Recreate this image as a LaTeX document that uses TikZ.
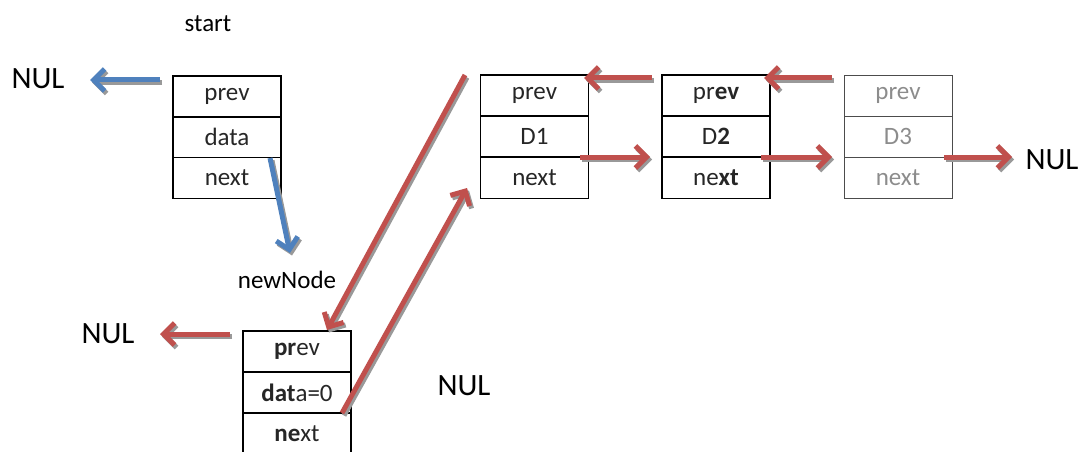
\documentclass[tikz,border=0pt]{standalone}
\usepackage{fontspec}
\setmainfont{Carlito}
\usetikzlibrary{arrows.meta}
\definecolor{lnred}{HTML}{C0504D}
\definecolor{lnblue}{HTML}{4F81BD}
\tikzset{
  cell/.style={draw=black, line width=1.3pt, minimum width=108pt, minimum height=41pt,
    inner sep=0pt, font=\fontsize{25}{28}\selectfont, text=black!85},
  faint/.style={cell, draw=black!70, line width=0.8pt, text=black!45},
  lbl/.style={font=\fontsize{31}{34}\selectfont, inner sep=0pt},
  small/.style={font=\fontsize{25}{28}\selectfont, inner sep=0pt},
  ptr/.style={line width=5pt, -{Straight Barb[length=11pt, width=22pt, line width=5pt]}},
  shade/.style={ptr, draw=black!40, transform canvas={shift={(2pt,-2.5pt)}}},
}
\newcommand{\pointer}[3]{%
  \draw[shade] (#2) -- (#3);
  \draw[ptr, draw=#1] (#2) -- (#3);}
\begin{document}
\begin{tikzpicture}[x=1pt, y=-1pt]
\useasboundingbox (0,0) rectangle (1090,452);

% labels
\node[small] (lstart) at (208,24) {start};
\node[lbl] (nul1) at (38,79) {NUL};
\node[small] (lnew) at (287,280) {newNode};
\node[lbl] (nul2) at (108,334) {NUL};
\node[lbl] (nul3) at (464,386) {NUL};
\node[lbl] (nul4) at (1052,160) {NUL};

% start node
\node[cell] (sp) at (227,96.5) {prev};
\node[cell] (sd) at (227,137) {data};
\node[cell] (sn) at (227,178) {next};

% node D1
\node[cell] (ap) at (534.5,95.5) {prev};
\node[cell] (ad) at (534.5,136.5) {D1};
\node[cell] (an) at (534.5,178) {next};

% node D2
\node[cell] (bp) at (716,95.5) {pr\textbf{ev}};
\node[cell] (bd) at (716,136.5) {D\textbf{2}};
\node[cell] (bn) at (716,178) {ne\textbf{xt}};

% node D3
\node[faint] (cp) at (898,95.5) {prev};
\node[faint] (cd) at (898,136.5) {D3};
\node[faint] (cn) at (898,178) {next};

% new node
\node[cell] (np) at (297,351.5) {\textbf{pr}ev};
\node[cell] (nd) at (297,392.5) {\textbf{dat}a=0};
\node[cell] (nn) at (297,433.5) {\textbf{ne}xt};

% pointer end points
\coordinate (b1s) at (160,80);  \coordinate (b1e) at (90,80);
\coordinate (b2s) at (270,158); \coordinate (b2e) at (290,253);
\coordinate (r1s) at (230,334); \coordinate (r1e) at (160,334);
\coordinate (r2s) at (465,75);  \coordinate (r2e) at (327,330);
\coordinate (r3s) at (342,413); \coordinate (r3e) at (467,188);
\coordinate (r4s) at (652,78);  \coordinate (r4e) at (584,78);
\coordinate (r5s) at (832,78);  \coordinate (r5e) at (764,78);
\coordinate (r6s) at (580,157); \coordinate (r6e) at (650,157);
\coordinate (r7s) at (761,157); \coordinate (r7e) at (832,157);
\coordinate (r8s) at (944,157); \coordinate (r8e) at (1012,157);

% pointers
\pointer{lnblue}{b1s}{b1e}
\pointer{lnblue}{b2s}{b2e}
\pointer{lnred}{r1s}{r1e}
\pointer{lnred}{r2s}{r2e}
\pointer{lnred}{r3s}{r3e}
\pointer{lnred}{r4s}{r4e}
\pointer{lnred}{r5s}{r5e}
\pointer{lnred}{r6s}{r6e}
\pointer{lnred}{r7s}{r7e}
\pointer{lnred}{r8s}{r8e}
\end{tikzpicture}
\end{document}
